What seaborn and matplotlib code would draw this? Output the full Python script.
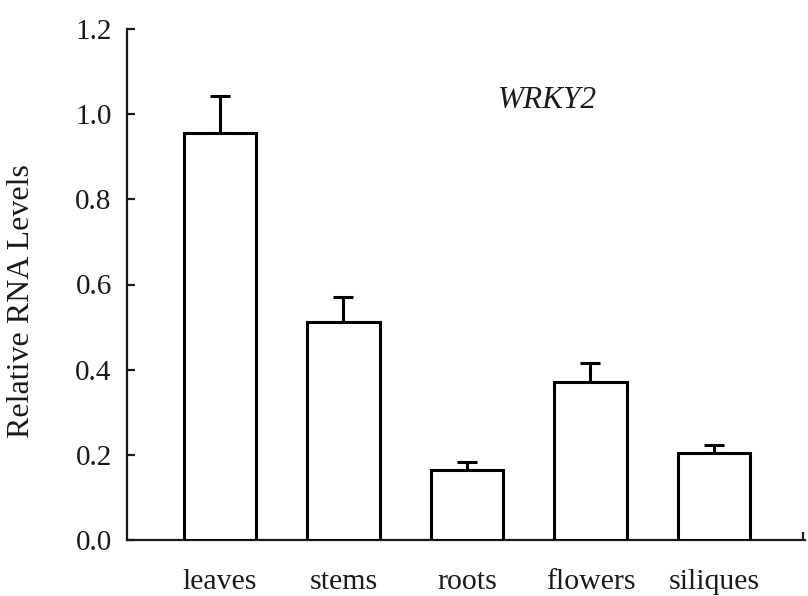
import matplotlib
matplotlib.use("Agg")
import matplotlib.pyplot as plt
import seaborn as sns
import pandas as pd

tissues = ["leaves", "stems", "roots", "flowers", "siliques"]
levels = [0.955, 0.513, 0.164, 0.370, 0.205]
errors = [0.087, 0.057, 0.019, 0.045, 0.019]
y_ticks = [0.0, 0.2, 0.4, 0.6, 0.8, 1.0, 1.2]
gene_label = "WRKY2"
y_label = "Relative RNA Levels"

sns.set_style("ticks")
plt.rcParams["font.family"] = ["Liberation Serif", "DejaVu Serif"]

df = pd.DataFrame({"tissue": tissues, "level": levels})

fig = plt.figure(figsize=(8.08, 5.96), dpi=100)
ax = fig.add_axes([127 / 808, 56 / 596, (805 - 127) / 808, (540 - 29) / 596])

sns.barplot(data=df, x="tissue", y="level", color="white", saturation=1,
            edgecolor="black", linewidth=2.2, width=0.59, errorbar=None, ax=ax, zorder=3)
ax.errorbar(range(len(tissues)), levels, yerr=[[0] * len(errors), errors],
            fmt="none", ecolor="black", elinewidth=2.2, capsize=7.5, capthick=2.2, zorder=2)

xmin, xmax = -0.753, 4.737
ax.set_xlim(xmin, xmax)
ax.set_ylim(0, 1.2)
ax.set_yticks(y_ticks)
ax.set_yticklabels([f"{v:.1f}" for v in y_ticks])

for s in ["top", "right"]:
    ax.spines[s].set_visible(False)
for s in ["left", "bottom"]:
    ax.spines[s].set_linewidth(1.6)
    ax.spines[s].set_color("#1a1a1a")

ax.tick_params(axis="y", direction="in", length=6, width=1.6, labelsize=21, pad=11, colors="#1a1a1a")
ax.tick_params(axis="x", length=0, labelsize=21.5, pad=21, colors="#1a1a1a")
ax.set_xticks([xmax - 0.015], minor=True)
ax.tick_params(axis="x", which="minor", direction="in", length=6, width=1.6, color="#1a1a1a")

ax.set_xlabel("")
ax.set_ylabel(y_label, fontsize=23, color="#1a1a1a")
ax.yaxis.set_label_coords((36 - 127) / 678, (540 - 301) / 511)
ax.text(2.65, 1.033, gene_label, fontsize=22.5, style="italic", ha="center", va="center", color="#1a1a1a")

fig.savefig("out.png", dpi=100, facecolor="white")
